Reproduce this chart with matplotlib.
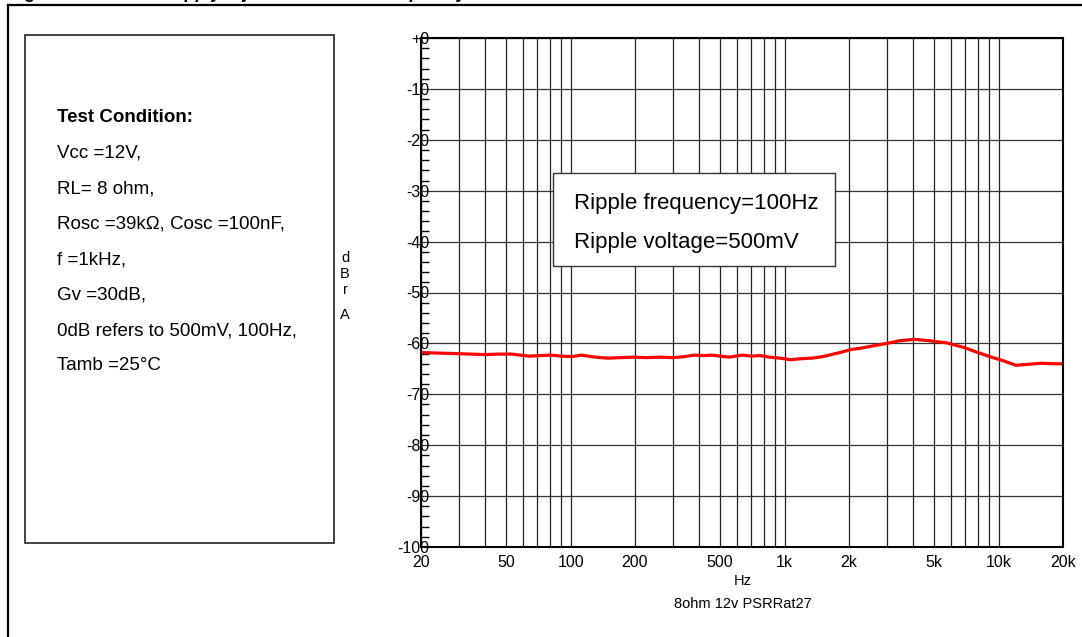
import matplotlib
matplotlib.use("Agg")
import matplotlib.pyplot as plt
from matplotlib.patches import Rectangle
from matplotlib.lines import Line2D
from matplotlib.ticker import FixedLocator, NullFormatter

plt.rcParams['font.family'] = ['Liberation Sans', 'DejaVu Sans']

# PSRR curve
freq = [20, 24, 29, 34, 40, 46, 53, 58, 64, 72, 81, 90, 102, 112, 130, 149, 170, 197,
        225, 260, 300, 340, 379, 420, 458, 500, 551, 590, 635, 700, 765, 850, 950,
        1063, 1200, 1340, 1500, 1692, 1850, 2045, 2300, 2573, 3000, 3420, 4034,
        4800, 5717, 6880, 8000, 9097, 10500, 12030, 13810, 15880, 18000, 20000]
psrr = [-61.8, -61.9, -62.0, -62.1, -62.2, -62.1, -62.1, -62.3, -62.5, -62.4, -62.3, -62.5,
        -62.6, -62.3, -62.7, -62.9, -62.8, -62.7, -62.8, -62.7, -62.8, -62.6, -62.3, -62.4,
        -62.3, -62.5, -62.7, -62.5, -62.3, -62.5, -62.4, -62.7, -62.9, -63.2, -63.0, -62.9,
        -62.6, -62.1, -61.7, -61.2, -60.9, -60.5, -60.0, -59.5, -59.2, -59.5, -59.9,
        -60.8, -61.8, -62.6, -63.4, -64.3, -64.1, -63.9, -64.0, -64.0]

ytick_vals = [0, -10, -20, -30, -40, -50, -60, -70, -80, -90, -100]
ytick_labels = ['+0', '-10', '-20', '-30', '-40', '-50', '-60', '-70', '-80', '-90', '-100']
xtick_vals = [20, 50, 100, 200, 500, 1000, 2000, 5000, 10000, 20000]
xtick_labels = ['20', '50', '100', '200', '500', '1k', '2k', '5k', '10k', '20k']
xgrid_vals = [20, 30, 40, 50, 60, 70, 80, 90, 100, 200, 300, 400, 500, 600, 700, 800, 900,
              1000, 2000, 3000, 4000, 5000, 6000, 7000, 8000, 9000, 10000, 20000]

conditions = ['Vcc =12V,', 'RL= 8 ohm,', 'Rosc =39k\u03a9, Cosc =100nF,', 'f =1kHz,',
              'Gv =30dB,', '0dB refers to 500mV, 100Hz,', 'Tamb =25\u00b0C']

W, H = 1082, 637
fig = plt.figure(figsize=(W / 100, H / 100), dpi=100)


def fx(px):
    return px / W


def fy(py):
    return 1 - py / H


# outer frame (left and top edges only visible)
fig.add_artist(Line2D([fx(8), fx(8)], [fy(5), 0], color='black', lw=1.6))
fig.add_artist(Line2D([fx(8), 1], [fy(5), fy(5)], color='black', lw=1.6))
# caption, cut off by the top edge as in the source
fig.text(fx(8), fy(-7), 'Figure 27.  Power supply rejection ratio vs. frequency',
         fontsize=13, fontweight='bold', va='center', ha='left')

# test condition box
fig.add_artist(Rectangle((fx(25), fy(543)), fx(334) - fx(25), fy(35) - fy(543),
                         fill=False, ec='#222222', lw=1.2))
fig.text(fx(57), fy(118), 'Test Condition:', fontsize=13.5, fontweight='bold', va='center')
for i, line in enumerate(conditions):
    fig.text(fx(57), fy(153.5 + 35.4 * i), line, fontsize=13.5, va='center')

ax = fig.add_axes([fx(421), fy(547), fx(1063) - fx(421), fy(38) - fy(547)])
ax.plot(freq, psrr, color='#ff0000', lw=2.3, solid_joinstyle='round')
ax.set_xscale('log')
ax.set_xlim(20, 20000)
ax.set_ylim(-100, 0)

ax.xaxis.set_major_locator(FixedLocator(xtick_vals))
ax.set_xticklabels(xtick_labels)
ax.xaxis.set_minor_locator(FixedLocator([]))
ax.xaxis.set_minor_formatter(NullFormatter())
ax.tick_params(axis='x', which='both', length=0, pad=6, labelsize=11.5)
for xv in xgrid_vals:
    ax.axvline(xv, color='#222222', lw=0.9, zorder=0)

ax.set_yticks(ytick_vals)
ax.set_yticklabels(ytick_labels)
ax.yaxis.set_minor_locator(FixedLocator(list(range(-100, 1, 2))))
ax.tick_params(axis='y', which='major', direction='in', length=0, pad=-6, labelsize=11.5)
ax.tick_params(axis='y', which='minor', direction='in', length=6, width=1, color='black')
for yv in ytick_vals:
    ax.axhline(yv, color='#333333', lw=0.9, zorder=0)

for s in ax.spines.values():
    s.set_linewidth(1.5)

# stacked y label
for ch, py in [('d', 258), ('B', 274), ('r', 290), ('A', 315)]:
    fig.text(fx(345), fy(py), ch, fontsize=10.5, ha='center', va='center')

fig.text(fx(743), fy(581), 'Hz', fontsize=10.5, ha='center', va='center')
fig.text(fx(743), fy(604), '8ohm 12v PSRRat27', fontsize=10.5, ha='center', va='center')

# ripple info box
fig.add_artist(Rectangle((fx(553), fy(266)), fx(835) - fx(553), fy(173) - fy(266),
                         fc='white', ec='#333333', lw=1.0, zorder=5))
fig.text(fx(574), fy(204), 'Ripple frequency=100Hz', fontsize=16, va='center', zorder=6)
fig.text(fx(574), fy(243), 'Ripple voltage=500mV', fontsize=16, va='center', zorder=6)

fig.savefig('out.png', dpi=100)
